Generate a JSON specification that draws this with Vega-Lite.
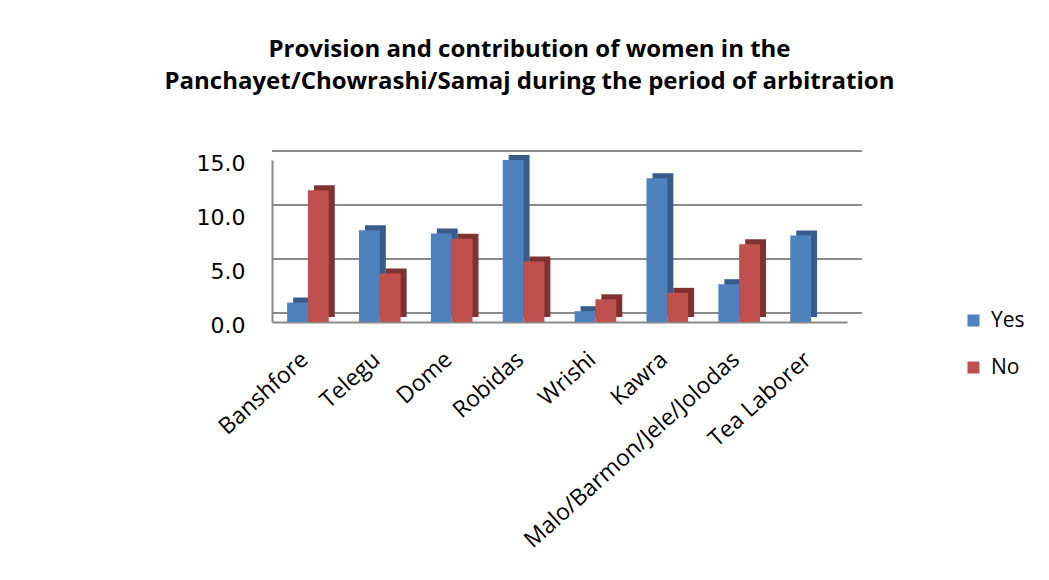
{
  "$schema": "https://vega.github.io/schema/vega-lite/v6.json",
  "autosize": "none",
  "width": 575,
  "height": 162,
  "padding": {"left": 272, "top": 160, "right": 202, "bottom": 258},
  "background": "white",
  "title": {
    "text": ["Provision and contribution of women in the", "Panchayet/Chowrashi/Samaj during the period of arbitration"],
    "font": "Open Sans",
    "fontSize": 24,
    "fontWeight": "bold",
    "color": "#000000",
    "anchor": "middle",
    "dx": -30,
    "offset": 56,
    "lineHeight": 32
  },
  "datasets": {
    "survey": [
      {"community": "Banshfore", "answer": "Yes", "value": 1.8},
      {"community": "Banshfore", "answer": "No", "value": 12.2},
      {"community": "Telegu", "answer": "Yes", "value": 8.5},
      {"community": "Telegu", "answer": "No", "value": 4.5},
      {"community": "Dome", "answer": "Yes", "value": 8.2},
      {"community": "Dome", "answer": "No", "value": 7.7},
      {"community": "Robidas", "answer": "Yes", "value": 15.0},
      {"community": "Robidas", "answer": "No", "value": 5.6},
      {"community": "Wrishi", "answer": "Yes", "value": 1.0},
      {"community": "Wrishi", "answer": "No", "value": 2.1},
      {"community": "Kawra", "answer": "Yes", "value": 13.3},
      {"community": "Kawra", "answer": "No", "value": 2.7},
      {"community": "Malo/Barmon/Jele/Jolodas", "answer": "Yes", "value": 3.5},
      {"community": "Malo/Barmon/Jele/Jolodas", "answer": "No", "value": 7.2},
      {"community": "Tea Laborer", "answer": "Yes", "value": 8.0},
      {"community": "Tea Laborer", "answer": "No", "value": 0.0}
    ],
    "gridlines": [{"level": 0}, {"level": 5}, {"level": 10}, {"level": 15}]
  },
  "config": {
    "view": {"stroke": null},
    "axis": {"grid": false, "ticks": false, "domainColor": "#8a8a8a", "domainWidth": 2, "labelColor": "#000000"},
    "axisX": {"labelAngle": -42, "labelAlign": "right", "labelBaseline": "middle", "labelLimit": 0,
              "labelFont": "Open Sans", "labelFontSize": 23, "labelPadding": 34, "labelOffset": -3},
    "axisY": {"labelFont": "DejaVu Sans", "labelFontSize": 22, "labelPadding": 27, "labelOffset": 3},
    "legend": {"orient": "none", "legendX": 691, "legendY": 150, "symbolType": "square",
               "symbolSize": 144, "symbolStrokeWidth": 0, "labelFont": "Open Sans",
               "labelFontSize": 21, "labelColor": "#000000", "rowPadding": 25, "labelOffset": 7}
  },
  "layer": [
    {
      "data": {"name": "gridlines"},
      "mark": {"type": "rule", "color": "#8a8a8a", "strokeWidth": 2, "xOffset": 15, "yOffset": -9},
      "encoding": {
        "y": {"field": "level", "type": "quantitative", "title": null,
              "scale": {"domain": [0, 15], "nice": false, "zero": true},
              "axis": {"values": [0, 5, 10, 15], "format": ".1f"}}
      }
    },
    {
      "data": {"name": "survey"},
      "transform": [{"filter": "datum.answer === 'Yes'"}],
      "mark": {"type": "bar", "color": "#375C8A", "width": {"band": 0.5}, "xOffset": -4.4, "yOffset": -5},
      "encoding": {
        "x": {"field": "community", "type": "nominal", "sort": null, "title": null,
              "scale": {"paddingInner": 0.42, "paddingOuter": 0.21}},
        "y": {"field": "value", "type": "quantitative", "title": null}
      }
    },
    {
      "data": {"name": "survey"},
      "transform": [{"filter": "datum.answer === 'No'"}],
      "mark": {"type": "bar", "color": "#7E3331", "width": {"band": 0.5}, "xOffset": 16.4, "yOffset": -5},
      "encoding": {
        "x": {"field": "community", "type": "nominal", "sort": null, "title": null},
        "y": {"field": "value", "type": "quantitative", "title": null}
      }
    },
    {
      "data": {"name": "survey"},
      "transform": [{"filter": "datum.answer === 'Yes'"}],
      "mark": {"type": "bar", "width": {"band": 0.5}, "xOffset": -10.4},
      "encoding": {
        "x": {"field": "community", "type": "nominal", "sort": null, "title": null},
        "y": {"field": "value", "type": "quantitative", "title": null},
        "fill": {"field": "answer", "type": "nominal", "title": null,
                 "scale": {"domain": ["Yes", "No"], "range": ["#4F81BD", "#C0504D"]}}
      }
    },
    {
      "data": {"name": "survey"},
      "transform": [{"filter": "datum.answer === 'No'"}],
      "mark": {"type": "bar", "width": {"band": 0.5}, "xOffset": 10.4},
      "encoding": {
        "x": {"field": "community", "type": "nominal", "sort": null, "title": null},
        "y": {"field": "value", "type": "quantitative", "title": null},
        "fill": {"field": "answer", "type": "nominal", "title": null,
                 "scale": {"domain": ["Yes", "No"], "range": ["#4F81BD", "#C0504D"]}}
      }
    }
  ]
}
